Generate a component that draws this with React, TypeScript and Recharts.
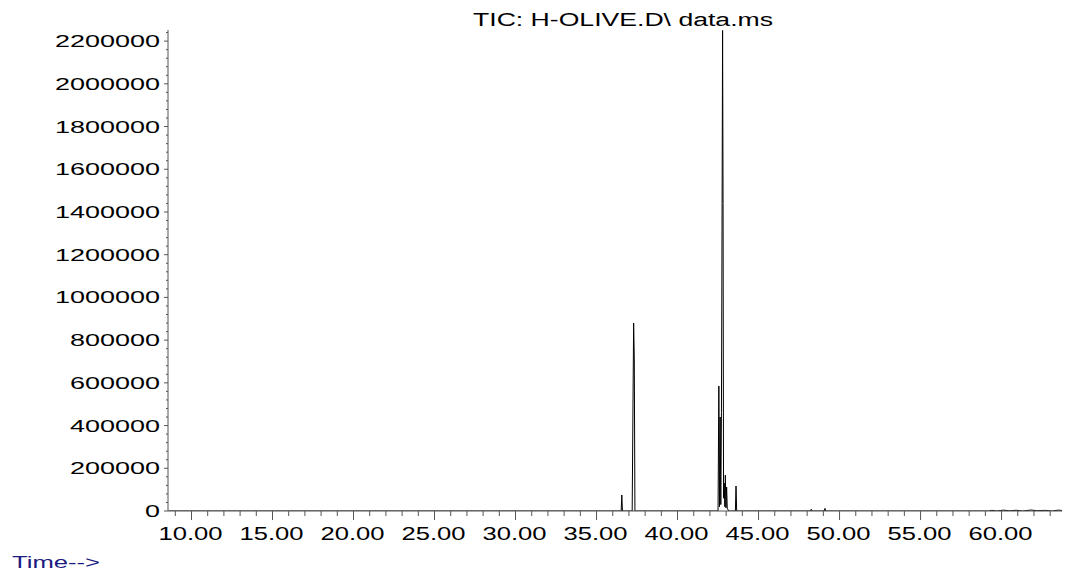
import { LineChart, Line, XAxis, YAxis } from "recharts";

// retention time (min) and abundance
const TIMES = [
  8.6, 36.52, 36.56, 36.6, 37.2, 37.25, 37.29, 37.33, 37.37,
  42.5, 42.55, 42.59, 42.63, 42.67, 42.71, 42.75, 42.78, 42.81, 42.84, 42.88, 42.92, 42.95, 42.99, 43.03, 43.07, 43.11, 43.15,
  43.57, 43.61, 43.65,
  48.2, 48.25, 48.3, 49.05, 49.1, 49.15,
  59.2, 59.4, 59.7, 60.1, 60.5, 60.9, 61.3, 61.8, 62.2, 62.7, 63.1, 63.5, 64.1,
];
const ABUNDANCE = [
  0, 0, 75000, 0, 0, 500000, 880000, 715000, 0,
  0, 585000, 20000, 440000, 30000, 460000, 1440000, 2250000, 1440000, 60000, 130000, 20000, 168000, 15000, 112000, 10000, 8000, 0,
  0, 117000, 0,
  0, 8000, 0, 0, 12000, 0,
  0, 3000, 0, 4000, 1000, 3500, 0, 4500, 1500, 3000, 0, 4000, 0,
];

const X_MAJOR = [10, 15, 20, 25, 30, 35, 40, 45, 50, 55, 60];
const Y_MAJOR = [0, 200000, 400000, 600000, 800000, 1000000, 1200000, 1400000, 1600000, 1800000, 2000000, 2200000];

const X_TICKS = Array.from({ length: 56 }, (_, i) => 9 + i);
const Y_TICKS = Array.from({ length: 57 }, (_, i) => i * 40000);

const data = TIMES.map((t, i) => ({ t, v: ABUNDANCE[i] }));

const FONT = "'Liberation Sans', Arial, sans-serif";

function YTick(props: any) {
  const { x, y, payload } = props;
  const major = Y_MAJOR.includes(payload.value);
  const label = String(payload.value);
  return (
    <g>
      <line x1={x - (major ? 4 : 2)} x2={x} y1={y} y2={y} stroke="#555" />
      {major && (
        <text
          x={x - 8}
          y={y + 6}
          textAnchor="end"
          fontFamily={FONT}
          fontSize={17}
          fill="#000"
          textLength={label.length * 15}
          lengthAdjust="spacingAndGlyphs"
        >
          {label}
        </text>
      )}
    </g>
  );
}

function XTick(props: any) {
  const { x, y, payload } = props;
  const major = X_MAJOR.includes(payload.value);
  const label = payload.value.toFixed(2);
  return (
    <g>
      <line x1={x} x2={x} y1={y} y2={y + (major ? 9 : 5)} stroke="#555" />
      {major && (
        <text
          x={x - 1}
          y={y + 29}
          textAnchor="middle"
          fontFamily={FONT}
          fontSize={18}
          fill="#000"
          textLength={64}
          lengthAdjust="spacingAndGlyphs"
        >
          {label}
        </text>
      )}
    </g>
  );
}

export default function App() {
  return (
    <div style={{ position: "relative", width: 1070, height: 573, margin: "-8px -8px 0 -8px", background: "#fff" }}>
      <LineChart width={1070} height={573} data={data} margin={{ top: 30, right: 2, bottom: 12, left: 8 }}>
        <XAxis
          dataKey="t"
          type="number"
          domain={[8.55, 64.1]}
          ticks={X_TICKS}
          tick={<XTick />}
          tickLine={false}
          tickSize={0}
          tickMargin={0}
          height={50}
          stroke="#555"
          interval={0}
          allowDataOverflow
        />
        <YAxis
          type="number"
          domain={[0, 2252000]}
          ticks={Y_TICKS}
          tick={<YTick />}
          tickLine={false}
          tickSize={0}
          tickMargin={0}
          width={160}
          stroke="#555"
          interval={0}
          allowDataOverflow
        />
        <Line
          type="linear"
          dataKey="v"
          stroke="#000"
          strokeWidth={1}
          dot={false}
          isAnimationActive={false}
        />
      </LineChart>
      <svg width={1070} height={573} style={{ position: "absolute", left: 0, top: 0, pointerEvents: "none" }}>
        <text
          x={623}
          y={26}
          textAnchor="middle"
          fontFamily={FONT}
          fontSize={18}
          fill="#000"
          textLength={300}
          lengthAdjust="spacingAndGlyphs"
        >
          TIC: H-OLIVE.D\ data.ms
        </text>
        <text
          x={12}
          y={568}
          fontFamily={FONT}
          fontSize={16}
          fill="#1a1a80"
          textLength={88}
          lengthAdjust="spacingAndGlyphs"
        >
          Time--&gt;
        </text>
      </svg>
    </div>
  );
}
